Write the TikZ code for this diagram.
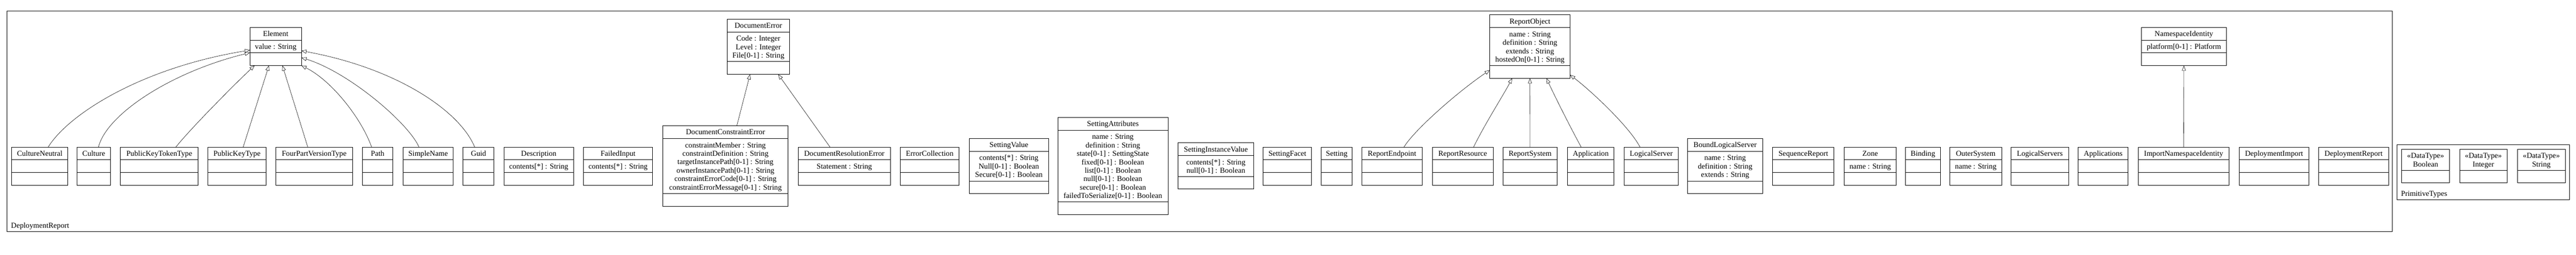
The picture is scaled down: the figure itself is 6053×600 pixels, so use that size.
\documentclass[tikz,border=0pt]{standalone}
\usepackage{fontspec}
\setmainfont{Liberation Serif}
\usetikzlibrary{arrows.meta,fit}
\tikzset{
  classbox/.style={draw, line width=1.1pt, inner sep=0pt, outer sep=0pt},
  classline/.style={line width=1.1pt},
  txt/.style={anchor=base, inner sep=0pt, font=\fontsize{17.8}{19.9}\selectfont},
  lbl/.style={anchor=base west, inner sep=0pt, font=\fontsize{17.8}{19.9}\selectfont},
  gen/.style={line width=0.7pt, -{Triangle[open, length=12pt, width=9pt]}},
  pkgframe/.style={draw, line width=1.1pt, inner sep=0pt, outer sep=0pt},
}
% id, x1, x2, ytop, ydiv1, ydiv2, ybot, title lines, attribute lines
\newcommand\umlclass[9]{%
  \node[classbox, fit={(#2,-#4) (#3,-#7)}] (#1) {};
  \draw[classline] (#2,-#5) -- (#3,-#5);
  \draw[classline] (#2,-#6) -- (#3,-#6);
  \foreach \lineitem [count=\idx] in {#8}
    \node[txt] at ({(#2+#3)/2},{-(#4+21+(\idx-1)*19.9)}) {\lineitem};
  \def\attrlist{#9}%
  \ifx\attrlist\empty\else
    \foreach \lineitem [count=\idx] in {#9}
      \node[txt] at ({(#2+#3)/2},{-(#5+21.4+(\idx-1)*19.9)}) {\lineitem};
  \fi}
\newcommand\rowclass[4]{\umlclass{#1}{#2}{#3}{346.4}{376.4}{406.4}{436.1}{#4}{}}
\newcommand\rowclassattr[5]{\umlclass{#1}{#2}{#3}{346.4}{376.4}{406.4}{436.1}{#4}{#5}}
\begin{document}
\begin{tikzpicture}[x=1pt,y=1pt]
\useasboundingbox (0,0) rectangle (6053,-600);

% package frames
\node[pkgframe, fit={(16.4,-25.7) (5621.2,-545.4)}] (pkg) {};
\node[lbl] (pkglbl) at (25.7,-537) {DeploymentReport};
\node[pkgframe, fit={(5631.9,-341.1) (6037.6,-470.7)}] (prim) {};
\node[lbl] (primlbl) at (5641.6,-461.6) {PrimitiveTypes};

% upper classes
\umlclass{el}{587.5}{708.2}{64.6}{94.6}{124.6}{154.3}{Element}{value : String}
\umlclass{de}{1708.2}{1855.7}{45}{75}{145}{175}{DocumentError}{Code : Integer, Level : Integer, File[0-1] : String}
\umlclass{ro}{3500.7}{3689.3}{35}{65}{154.6}{184.3}{ReportObject}{name : String, definition : String, extends : String, hostedOn[0-1] : String}
\umlclass{ni}{5031.4}{5231.8}{64.6}{94.6}{124.6}{154.3}{NamespaceIdentity}{platform[0-1] : Platform}

% lower row
\rowclass{cn}{27.5}{159.3}{CultureNeutral}
\rowclass{cu}{181.4}{259.3}{Culture}
\rowclass{pktt}{283.2}{465.4}{PublicKeyTokenType}
\rowclass{pkt}{488.2}{625.4}{PublicKeyType}
\rowclass{fpvt}{648.2}{828.2}{FourPartVersionType}
\rowclass{path}{851.4}{923.2}{Path}
\rowclass{sn}{947.5}{1064.3}{SimpleName}
\rowclass{guid}{1088.2}{1160.7}{Guid}
\rowclassattr{desc}{1184.3}{1347.5}{Description}{contents[*] : String}
\rowclassattr{fi}{1371.4}{1533.2}{FailedInput}{contents[*] : String}
\umlclass{dce}{1557.5}{1851.8}{296.1}{326.1}{455.7}{485.7}{DocumentConstraintError}{constraintMember : String, constraintDefinition : String, targetInstancePath[0-1] : String, ownerInstancePath[0-1] : String, constraintErrorCode[0-1] : String, constraintErrorMessage[0-1] : String}
\rowclassattr{dre}{1875.4}{2092.5}{DocumentResolutionError}{Statement : String}
\rowclass{ec}{2115.4}{2253.6}{ErrorCollection}
\umlclass{sv}{2277.5}{2463.6}{326.1}{356.1}{426.1}{455.7}{SettingValue}{contents[*] : String, Null[0-1] : Boolean, Secure[0-1] : Boolean}
\umlclass{sa}{2485.4}{2744.6}{276.8}{306.4}{475.4}{505}{SettingAttributes}{name : String, definition : String, state[0-1] : SettingState, fixed[0-1] : Boolean, list[0-1] : Boolean, null[0-1] : Boolean, secure[0-1] : Boolean, failedToSerialize[0-1] : Boolean}
\umlclass{siv}{2768.2}{2945.7}{336.4}{366.1}{415.7}{445.4}{SettingInstanceValue}{contents[*] : String, null[0-1] : Boolean}
\rowclass{sf}{2968.2}{3081.8}{SettingFacet}
\rowclass{setg}{3104.3}{3177.5}{Setting}
\rowclass{rep}{3200.4}{3341.4}{ReportEndpoint}
\rowclass{rr}{3365.4}{3508.6}{ReportResource}
\rowclass{rs}{3531.4}{3659.3}{ReportSystem}
\rowclass{app}{3683.2}{3792.5}{Application}
\rowclass{ls}{3816.4}{3943.6}{LogicalServer}
\umlclass{bls}{3965.4}{4141.8}{326.1}{356.1}{426.1}{455.7}{BoundLogicalServer}{name : String, definition : String, extends : String}
\rowclass{sr}{4165.4}{4309.3}{SequenceReport}
\rowclassattr{zone}{4333.2}{4455.7}{Zone}{name : String}
\rowclass{bind}{4477.5}{4559.3}{Binding}
\rowclassattr{os}{4581.4}{4703.6}{OuterSystem}{name : String}
\rowclass{lss}{4725.4}{4860.7}{LogicalServers}
\rowclass{apps}{4883.2}{5000.7}{Applications}
\rowclass{ini}{5024.3}{5237.5}{ImportNamespaceIdentity}
\rowclass{di}{5261.4}{5425.4}{DeploymentImport}
\rowclass{dr}{5448.2}{5612.3}{DeploymentReport}

% primitive types
\umlclass{tbool}{5643.4}{5755.5}{351.4}{400.7}{400.7}{430.4}{«DataType», Boolean}{}
\umlclass{tint}{5779.4}{5891.2}{351.4}{400.7}{400.7}{430.4}{«DataType», Integer}{}
\umlclass{tstr}{5915.5}{6027.6}{351.4}{400.7}{400.7}{430.4}{«DataType», String}{}

% generalizations to Element
\draw[gen] ([xshift=85.7pt]cn.north west) .. controls (160,-270) and (330,-160) .. ([yshift=-53.4pt]el.north west);
\draw[gen] ([xshift=50pt]cu.north west) .. controls (250,-270) and (400,-170) .. ([yshift=-59.4pt]el.north west);
\draw[gen] ([xshift=130pt]pktt.north west) .. controls (450,-300) and (560,-190) .. ([xshift=10.7pt]el.south west);
\draw[gen] ([xshift=83.2pt]pkt.north west) -- ([xshift=44.5pt]el.south west);
\draw[gen] ([xshift=75pt]fpvt.north west) -- ([xshift=76.1pt]el.south west);
\draw[gen] ([xshift=21.8pt]path.north west) .. controls (850,-280) and (780,-190) .. (el.south east);
\draw[gen] ([xshift=37.1pt]sn.north west) .. controls (960,-290) and (820,-170) .. ([yshift=18.6pt]el.south east);
\draw[gen] ([xshift=27.2pt]guid.north west) .. controls (1080,-260) and (930,-160) .. ([yshift=34.7pt]el.south east);

% generalizations to DocumentError
\draw[gen] ([xshift=173.9pt]dce.north west) -- ([xshift=54.3pt]de.south west);
\draw[gen] ([xshift=75pt]dre.north west) -- ([xshift=120.4pt]de.south west);

% generalizations to ReportObject
\draw[gen] ([xshift=98.6pt]rep.north west) .. controls (3320,-310) and (3420,-220) .. ([yshift=19.3pt]ro.south west);
\draw[gen] ([xshift=97.1pt]rr.north west) .. controls (3490,-290) and (3535,-220) .. ([xshift=52.3pt]ro.south west);
\draw[gen] (rs.north) -- (ro.south);
\draw[gen] ([xshift=32.2pt]app.north west) .. controls (3690,-300) and (3650,-220) .. ([xshift=133.3pt]ro.south west);
\draw[gen] ([xshift=37.2pt]ls.north west) .. controls (3830,-300) and (3740,-215) .. ([yshift=7.9pt]ro.south east);

% generalization to NamespaceIdentity
\draw[gen] (ini.north) -- (ni.south);
\end{tikzpicture}
\end{document}
